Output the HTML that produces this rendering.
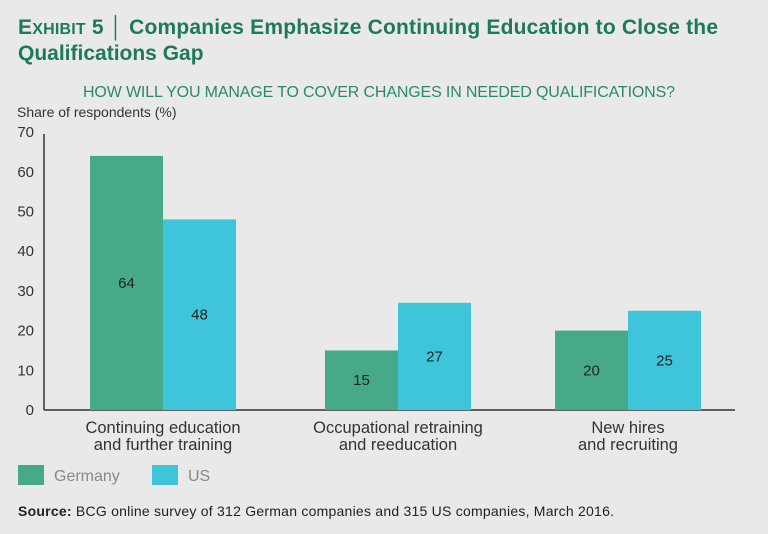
<!DOCTYPE html>
<html><head><meta charset="utf-8"><style>
body{margin:0;width:768px;height:534px;background:#e9e9ea;font-family:"Liberation Sans",sans-serif;overflow:hidden}
</style></head><body>
<svg width="768" height="534" style="position:absolute;left:0;top:0">
<text x="18" y="34" font-size="21" font-weight="bold" fill="#1d7a57" textLength="700">E<tspan font-size="16">XHIBIT</tspan> 5 │ Companies Emphasize Continuing Education to Close the</text>
<text x="18" y="60" font-size="21" font-weight="bold" fill="#1d7a57">Qualifications Gap</text>
<text x="379" y="97" font-size="16" fill="#2a8a66" text-anchor="middle" textLength="592">HOW WILL YOU MANAGE TO COVER CHANGES IN NEEDED QUALIFICATIONS?</text>
<text x="17" y="117" font-size="14" fill="#333">Share of respondents (%)</text>
<g id="axes"></g><g id="bars"></g>
<rect x="18" y="465" width="26" height="20" fill="#46a98a"/>
<text x="54" y="481" font-size="16" fill="#888">Germany</text>
<rect x="152" y="465" width="26" height="20" fill="#3ec5da"/>
<text x="188" y="481" font-size="16" fill="#888">US</text>
<text x="18" y="516" font-size="14" fill="#222" textLength="596"><tspan font-weight="bold">Source:</tspan> BCG online survey of 312 German companies and 315 US companies, March 2016.</text>
</svg>
<script>
const categories=[["Continuing  education","and further training"],["Occupational retraining","and reeducation"],["New hires","and recruiting"]];
const germany=[64,15,20];
const us=[48,27,25];
const ticks=[0,10,20,30,40,50,60,70];
const NS="http://www.w3.org/2000/svg";
const y0=410,k=3.97,centers=[163,398,628],bw=73;
const yS=v=>y0-v*k;
function mk(t,a,p){const e=document.createElementNS(NS,t);for(const n in a)e.setAttribute(n,a[n]);p.appendChild(e);return e;}
const ax=document.getElementById('axes'),bg=document.getElementById('bars');
const yl=mk('line',{x1:44,y1:134,x2:44,y2:y0,stroke:'#333','stroke-width':1.5},ax);


const xl=mk('line',{x1:44,y1:y0,x2:735,y2:y0,stroke:'#333','stroke-width':1.5},ax);


ticks.forEach(t=>{const e=mk('text',{x:34,y:yS(t)+5,'font-size':15,fill:'#333','text-anchor':'end'},ax);e.textContent=t;

});
categories.forEach((c,i)=>{
 const cx=centers[i];
 [[germany[i],'#46a98a',cx-bw,'germany'],[us[i],'#3ec5da',cx,'us']].forEach(([v,col,x,s])=>{
  const r=mk('rect',{x:x,y:yS(v),width:bw,height:v*k,fill:col},bg);
  
  
  const l=mk('text',{x:x+bw/2,y:yS(v/2)+5,'font-size':15,fill:'#222','text-anchor':'middle'},bg);l.textContent=v;
  
  
 });
 c.forEach((ln,j)=>{const t=mk('text',{x:cx,y:433+j*17,'font-size':16.5,fill:'#333','text-anchor':'middle'},ax);t.textContent=ln;
 
 });
});
</script>
</body></html>
